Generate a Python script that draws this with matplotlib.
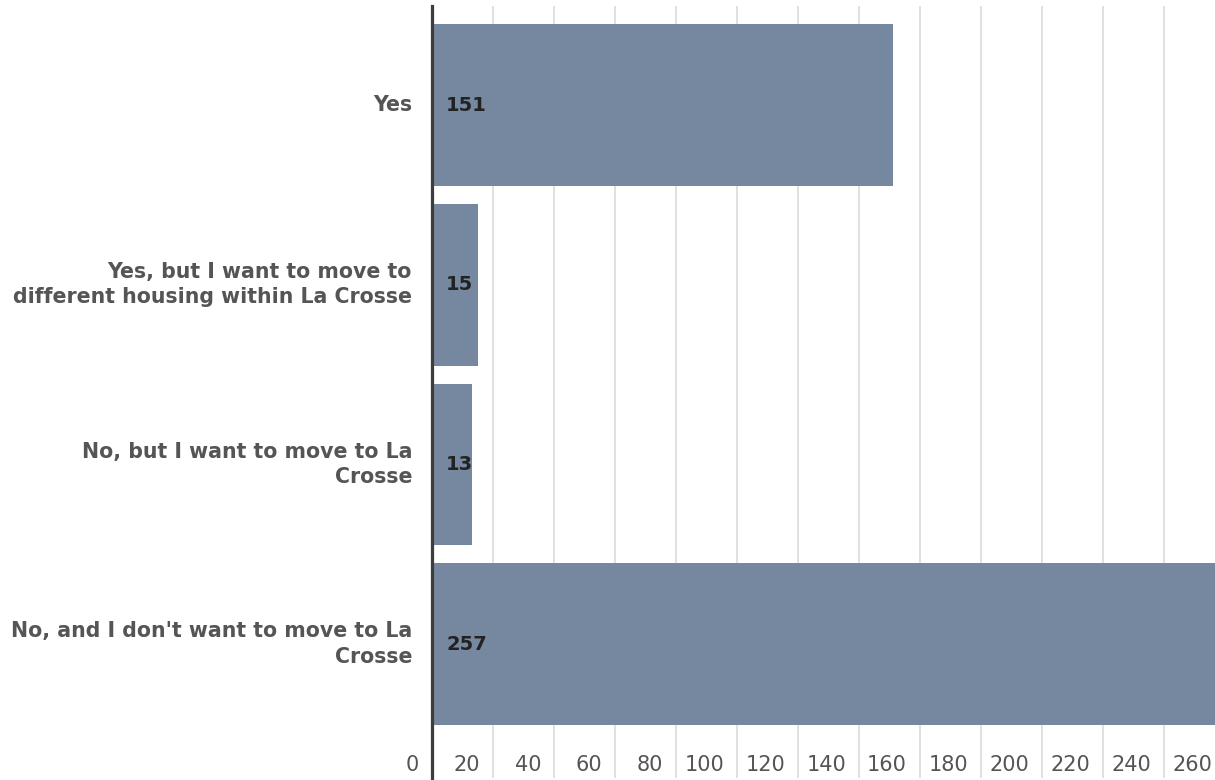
import matplotlib.pyplot as plt
import matplotlib.transforms as mtransforms

# data
categories = ['Yes',
              'Yes, but I want to move to\ndifferent housing within La Crosse',
              'No, but I want to move to La\nCrosse',
              "No, and I don't want to move to La\nCrosse"]
counts = [151, 15, 13, 257]
tick_values = list(range(0, 280, 20))
tick_labels = [str(v) for v in tick_values]

plt.rcParams['font.family'] = ['DejaVu Sans']

fig = plt.figure(figsize=(12.15, 7.8), dpi=100)
W, H = 1215, 780
ax = fig.add_axes([432 / W, 2 / H, (1225 - 432) / W, 772 / H])

ypos = list(range(len(categories)))
ax.barh(ypos, counts, height=0.9, color='#76889f', zorder=2)
ax.set_xlim(0, 260)
ax.set_ylim(3.746, -0.552)

# grid
ax.set_xticks(tick_values)
ax.set_xticklabels([])
ax.tick_params(axis='both', length=0)
ax.set_yticks([])
ax.grid(axis='x', color='#dddddd', linewidth=1.3, zorder=0)
for s in ['top', 'right', 'bottom']:
    ax.spines[s].set_visible(False)
ax.spines['left'].set_color('#3d3d3d')
ax.spines['left'].set_linewidth(2.3)
ax.spines['left'].set_zorder(3)

# x tick labels, sitting left of their gridline inside the plot
trans = mtransforms.blended_transform_factory(ax.transData, ax.transAxes)
trans = mtransforms.offset_copy(trans, fig=fig, x=-13, y=0, units='dots')
for v, lab in zip(tick_values, tick_labels):
    ax.text(v, 13 / 772, lab, transform=trans, ha='right', va='center',
            fontsize=15, color='#555555', clip_on=False)

# category labels
ctrans = mtransforms.offset_copy(ax.transData, fig=fig, x=-20, y=0, units='dots')
for y, c in zip(ypos, categories):
    ax.text(0, y, c, transform=ctrans, ha='right', va='center', fontsize=14.8,
            color='#555555', fontweight='bold', linespacing=1.33, clip_on=False)

# value labels
vtrans = mtransforms.offset_copy(ax.transData, fig=fig, x=14, y=0, units='dots')
for y, v in zip(ypos, counts):
    ax.text(0, y, str(v), transform=vtrans, ha='left', va='center', fontsize=14,
            color='#222222', fontweight='bold', zorder=4)

fig.savefig('out.png', dpi=100)
